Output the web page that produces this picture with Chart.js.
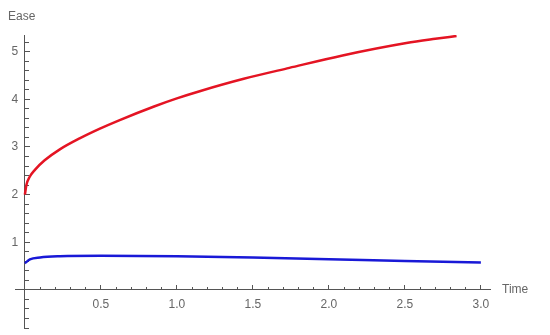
<!DOCTYPE html>
<html>
<head>
<meta charset="utf-8">
<script src="https://cdn.jsdelivr.net/npm/chart.js@4"></script>
<style>
    html, body { margin: 0; padding: 0; background: #fff; }
    #chart-container { width: 550px; height: 335px; }
</style>
</head>
<body>
<div id="chart-container"><canvas id="myChart"></canvas></div>
<script>
// values
const redTime = [0, 0.01, 0.033, 0.066, 0.13, 0.23, 0.36, 0.49, 0.62, 0.85, 1.0, 1.15, 1.44, 1.74, 2.09, 2.51, 2.70, 2.84];
const redEase = [2.0, 2.2, 2.38, 2.52, 2.72, 2.95, 3.18, 3.38, 3.56, 3.85, 4.02, 4.17, 4.43, 4.66, 4.92, 5.18, 5.27, 5.33];
const blueTime = [0, 0.033, 0.1, 0.23, 0.5, 0.75, 1.0, 1.5, 2.0, 2.5, 3.0];
const blueEase = [0.56, 0.64, 0.68, 0.705, 0.715, 0.712, 0.705, 0.68, 0.645, 0.605, 0.575];
const xTickLabels = ["0.5", "1.0", "1.5", "2.0", "2.5", "3.0"];
const yTickLabels = ["1", "2", "3", "4", "5"];

const toPoints = (xs, ys) => xs.map((x, i) => ({ x: x, y: ys[i] }));

const axisColor = "#555";
const textColor = "#666";
const font = { family: "Liberation Sans, Arial, sans-serif", size: 12 };

const near = (v, step) => Math.abs(v / step - Math.round(v / step)) < 1e-6;

// positioned axes should not push the plot area around
const noPadding = (scale) => {
    scale.paddingTop = 0;
    scale.paddingBottom = 0;
    scale.paddingLeft = 0;
    scale.paddingRight = 0;
};

const axisLabels = {
    id: "axisLabels",
    afterDraw: (chart) => {
        const ctx = chart.ctx;
        ctx.save();
        ctx.fillStyle = textColor;
        ctx.font = "12px Liberation Sans, Arial, sans-serif";
        ctx.textBaseline = "middle";
        ctx.textAlign = "left";
        ctx.fillText("Ease", 8, 17);
        ctx.fillText("Time", 502, chart.scales.y.getPixelForValue(0));
        ctx.restore();
    },
};

const xRange = { min: -0.065, max: 3.06 };
const yRange = { min: -0.8, max: 5.35 };

const config = {
    type: "line",
    data: {
        datasets: [{
                data: toPoints(redTime, redEase),
                borderColor: "rgb(228, 20, 35)",
                borderWidth: 2.5,
                pointRadius: 0,
                cubicInterpolationMode: "monotone",
                xAxisID: "x",
                yAxisID: "y",
            },
            {
                data: toPoints(blueTime, blueEase),
                borderColor: "rgb(25, 25, 215)",
                borderWidth: 2.5,
                pointRadius: 0,
                cubicInterpolationMode: "monotone",
                xAxisID: "x",
                yAxisID: "y",
            },
        ],
    },
    options: {
        responsive: false,
        animation: false,
        layout: { padding: { left: 15, right: 60, top: 35, bottom: 7 } },
        plugins: { legend: { display: false }, tooltip: { enabled: false } },
        scales: {
            x: {
                type: "linear",
                ...xRange,
                position: { y: 0 },
                afterFit: noPadding,
                grid: { drawOnChartArea: false, tickLength: -5, tickColor: axisColor },
                border: { color: axisColor, width: 1 },
                ticks: {
                    stepSize: 0.5,
                    includeBounds: false,
                    autoSkip: false,
                    maxRotation: 0,
                    color: textColor,
                    font: font,
                    padding: 13,
                    callback: (v) => {
                        const label = v.toFixed(1);
                        return xTickLabels.includes(label) && near(v, 0.5) ? label : "";
                    },
                },
            },
            xMinor: {
                type: "linear",
                axis: "x",
                ...xRange,
                position: { y: 0 },
                afterFit: noPadding,
                grid: { drawOnChartArea: false, tickLength: -3, tickColor: axisColor },
                border: { display: false },
                ticks: { stepSize: 0.1, includeBounds: false, autoSkip: false, display: false },
            },
            y: {
                type: "linear",
                ...yRange,
                position: { x: 0 },
                afterFit: noPadding,
                grid: { drawOnChartArea: false, tickLength: -6, tickColor: axisColor },
                border: { color: axisColor, width: 1 },
                ticks: {
                    stepSize: 1,
                    includeBounds: false,
                    autoSkip: false,
                    color: textColor,
                    font: font,
                    callback: (v) => {
                        const label = String(Math.round(v));
                        // trailing spaces keep the label clear of the axis line
                        return near(v, 1) && yTickLabels.includes(label) ? label + "  " : "";
                    },
                },
            },
            yMinor: {
                type: "linear",
                axis: "y",
                ...yRange,
                position: { x: 0 },
                afterFit: noPadding,
                grid: { drawOnChartArea: false, tickLength: -4, tickColor: axisColor },
                border: { display: false },
                ticks: { stepSize: 0.2, includeBounds: false, autoSkip: false, display: false },
            },
        },
    },
    plugins: [axisLabels],
};

const canvas = document.getElementById("myChart");
canvas.width = 550;
canvas.height = 335;
const myChart = new Chart(canvas, config);
</script>
</body>
</html>
